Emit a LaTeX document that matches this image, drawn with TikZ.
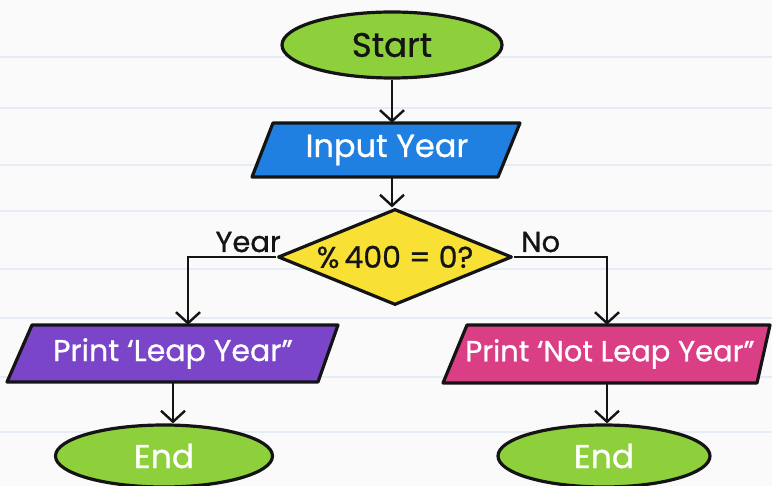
\documentclass[tikz,border=0pt]{standalone}
\usepackage{fontspec}
\setmainfont{Poppins}[FakeBold=0.8]
\usetikzlibrary{shapes.geometric,arrows.meta,calc}

\definecolor{paper}{HTML}{FAFAFB}
\definecolor{rule}{HTML}{E6ECF6}
\definecolor{ink}{HTML}{141414}
\definecolor{termgreen}{HTML}{8DD03C}
\definecolor{inblue}{HTML}{2080E2}
\definecolor{decyellow}{HTML}{F9E035}
\definecolor{yespurple}{HTML}{7B45CA}
\definecolor{nopink}{HTML}{DA3F86}

\tikzset{
  outline/.style={draw=ink, line width=3.2pt, line join=round},
  terminal/.style={outline, ellipse, fill=termgreen, inner sep=0pt},
  iobox/.style={rectangle, inner sep=0pt, text=white},
  flow/.style={draw=ink, line width=2.4pt, -{Straight Barb[length=11pt,width=24pt]}},
  txt/.style={font=\fontsize{#1}{#1}\selectfont},
  branchlabel/.style={font=\fontsize{29}{34}\selectfont, text=ink, inner sep=0pt},
}

\begin{document}
\begin{tikzpicture}[x=1pt,y=-1pt]
  % ruled paper
  \fill[paper] (0,0) rectangle (772,486);
  \useasboundingbox (0,0) rectangle (772,486);
  \foreach \y in {57,108,165,211,269,318,377,432}
    \draw[rule, line width=1.1pt] (0,\y) -- (772,\y);

  % start terminal
  \node[terminal, minimum width=220, minimum height=66, txt=34, text=ink] (start) at (392,45) {Start};

  % input
  \filldraw[outline, fill=inblue] (273,123) -- (520,123) -- (498,177) -- (252,177) -- cycle;
  \node[iobox, minimum width=220, minimum height=54, txt=32] (input) at (387,150) {Input Year};

  % decision
  \node[outline, diamond, fill=decyellow, minimum width=234, minimum height=96,
        inner sep=0pt, aspect=2.44, txt=30, text=ink] (dec) at (395,257) {\%\,400 = 0?};

  % yes branch output
  \filldraw[outline, fill=yespurple] (32,325) -- (338,325) -- (318,382) -- (7,382) -- cycle;
  \node[iobox, minimum width=280, minimum height=57, txt=30] (yes) at (173,353.5) {Print ‘Leap Year”};

  % no branch output
  \filldraw[outline, fill=nopink] (467,325) -- (770,325) -- (757,383) -- (443,383) -- cycle;
  \node[iobox, minimum width=290, minimum height=58, txt=29] (no) at (610,354) {Print ‘Not Leap Year”};

  % end terminals
  \node[terminal, minimum width=217, minimum height=62, txt=33, text=white] (endyes) at (164,456) {End};
  \node[terminal, minimum width=212, minimum height=62, txt=33, text=white] (endno) at (604,456) {End};

  % connectors
  \draw[flow] (start.south) -- (start.south |- input.north);
  \draw[flow] (start.south |- input.south) -- (start.south |- dec.north);
  \draw[flow] (dec.west) -| ($(yes.north)+(15,0)$);
  \draw[flow] (dec.east) -| ($(no.north)+(-3,0)$);
  \draw[flow] (yes.south) -- (yes.south |- endyes.north);
  \draw[flow] ($(no.south)+(-3,0)$) -- ($(no.south |- endno.north)+(-3,0)$);

  % branch labels
  \node[branchlabel, anchor=base east] (ylab) at (281,252) {Year};
  \node[branchlabel, anchor=base west] (nlab) at (521,252) {No};
\end{tikzpicture}
\end{document}
